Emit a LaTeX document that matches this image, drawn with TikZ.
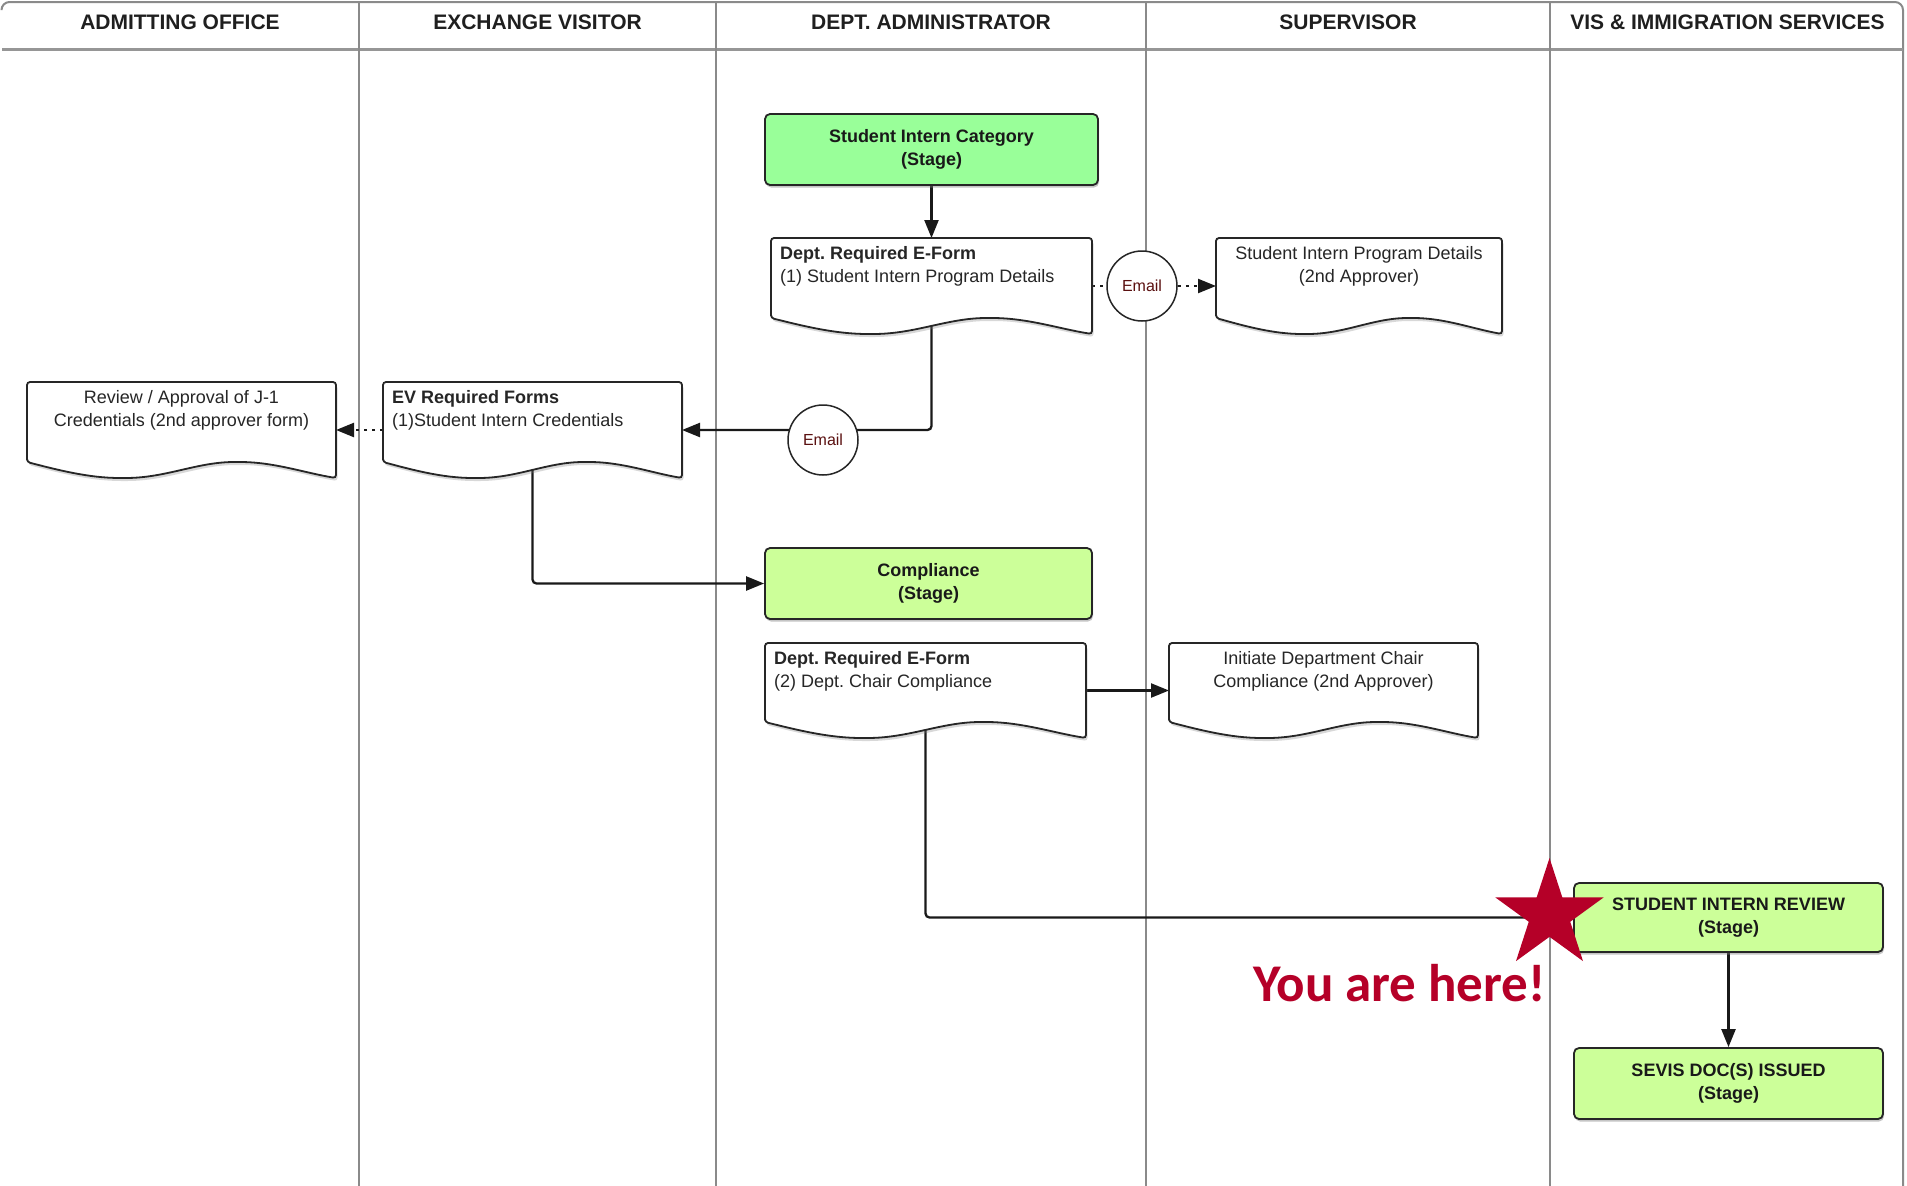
\documentclass[tikz,border=0pt]{standalone}
\usepackage{fontspec}
\setmainfont{Liberation Sans}
\newfontfamily\calib{Carlito}
\usetikzlibrary{arrows.meta,calc,shadows}
\pgfdeclarelayer{lanes}
\pgfdeclarelayer{conns}
\pgfsetlayers{lanes,conns,main}
\frenchspacing

\definecolor{lanegrey}{RGB}{138,138,138}
\definecolor{stageA}{RGB}{153,255,153}
\definecolor{stageB}{RGB}{204,255,153}
\definecolor{mailred}{RGB}{90,16,16}
\definecolor{yah}{RGB}{181,0,40}

\tikzset{
  lane/.style={draw=lanegrey, line width=2.5pt},
  hdr/.style={font=\fontsize{21}{25}\selectfont\bfseries, text=black!88},
  stage/.style={draw=black!85, line width=1.8pt, rounded corners=5pt, align=center,
    font=\fontsize{18}{22.5}\selectfont\bfseries, text=black!90,
    drop shadow={shadow xshift=1pt, shadow yshift=-2.5pt, opacity=0.45}},
  docbox/.style={inner sep=0pt, outer sep=0pt},
  docstyle/.style={draw=black!85, line width=1.8pt, fill=white, rounded corners=3pt,
    drop shadow={shadow xshift=1.5pt, shadow yshift=-3pt, opacity=0.3}},
  doctext/.style={font=\fontsize{18}{22.5}\selectfont, text=black!85, inner sep=0pt},
  mail/.style={circle, draw=black!85, fill=white, line width=1.5pt, minimum size=70pt,
    inner sep=0pt, font=\fontsize{16}{18}\selectfont, text=mailred},
  conn/.style={draw=black!90, line width=2.3pt, rounded corners=4pt},
  tip/.style={-{Triangle[length=18pt,width=14pt]}},
  dotc/.style={dash pattern=on 3pt off 5pt}
}

\newcommand\docshape[1]{%
  \draw[docstyle] ([yshift=16pt]#1.south west) -- (#1.north west) -- (#1.north east) -- (#1.south east)
    .. controls ([yshift=5pt]$(#1.south east)!0.1!(#1.south west)$) and ([yshift=16pt]$(#1.south east)!0.2!(#1.south west)$)
    .. ([yshift=16pt]$(#1.south east)!0.32!(#1.south west)$)
    .. controls ([yshift=16pt]$(#1.south east)!0.45!(#1.south west)$) and ([yshift=0pt]$(#1.south east)!0.55!(#1.south west)$)
    .. ([yshift=0pt]$(#1.south east)!0.69!(#1.south west)$)
    .. controls ([yshift=0pt]$(#1.south east)!0.8!(#1.south west)$) and ([yshift=8pt]$(#1.south east)!0.9!(#1.south west)$)
    .. ([yshift=16pt]#1.south west) -- cycle;}

\begin{document}
\begin{tikzpicture}[x=1pt,y=-1pt]
\useasboundingbox (0,0) rectangle (1907,1186);

% lanes and header
\begin{pgfonlayer}{lanes}
\fill[white] (0,0) rectangle (1907,1186);
\draw[draw=lanegrey, line width=2pt] (1.5,9) [rounded corners=8pt] -- (1.5,2) -- (1903,2) -- (1903,1190);
\draw[draw=lanegrey!90, line width=3pt] (2,49) -- (1903,49);
\draw[lane] (359,2) -- (359,1190);
\draw[lane] (716,2) -- (716,1190);
\draw[lane] (1146,2) -- (1146,1190);
\draw[lane] (1550,2) -- (1550,1190);
\end{pgfonlayer}

\node[hdr] (h1) at (180,22) {ADMITTING OFFICE};
\node[hdr] (h2) at (537.5,22) {EXCHANGE VISITOR};
\node[hdr] (h3) at (931,22) {DEPT. ADMINISTRATOR};
\node[hdr] (h4) at (1348,22) {SUPERVISOR};
\node[hdr] (h5) at (1727.5,22) {VIS \& IMMIGRATION SERVICES};

% stage boxes
\node[stage, fill=stageA, minimum width=333pt, minimum height=71pt] (sic) at (931.5,149.5) {Student Intern Category\\(Stage)};
\node[stage, fill=stageB, minimum width=327pt, minimum height=71pt] (comp) at (928.5,583.5) {Compliance\\(Stage)};
\node[stage, fill=stageB, minimum width=309pt, minimum height=69pt] (sir) at (1728.5,917.5) {STUDENT INTERN REVIEW\\(Stage)};
\node[stage, fill=stageB, minimum width=309pt, minimum height=71pt] (sev) at (1728.5,1083.5) {SEVIS DOC(S) ISSUED\\(Stage)};

% document frames
\node[docbox, minimum width=321pt, minimum height=96pt] (d1) at (931.5,286) {};
\node[docbox, minimum width=286pt, minimum height=96pt] (d1b) at (1359,286) {};
\node[docbox, minimum width=309pt, minimum height=96pt] (rev) at (181.5,430) {};
\node[docbox, minimum width=299pt, minimum height=96pt] (ev) at (532.5,430) {};
\node[docbox, minimum width=321pt, minimum height=95pt] (d2) at (925.5,690.5) {};
\node[docbox, minimum width=309pt, minimum height=95pt] (init) at (1323.5,690.5) {};

\docshape{d1}
\docshape{d1b}
\docshape{rev}
\docshape{ev}
\docshape{d2}
\docshape{init}

\node[doctext, anchor=north west, align=left] (d1t) at ([shift={(9,8.5)}]d1.north west)
  {\textbf{Dept. Required E-Form}\\(1) Student Intern Program Details};
\node[doctext, anchor=north, align=center] (d1bt) at ([yshift=-8.5pt]d1b.north)
  {Student Intern Program Details\\(2nd Approver)};
\node[doctext, anchor=north, align=center] (revt) at ([yshift=-8.5pt]rev.north)
  {Review / Approval of J-1\\Credentials (2nd approver form)};
\node[doctext, anchor=north west, align=left] (evt) at ([shift={(9,8.5)}]ev.north west)
  {\textbf{EV Required Forms}\\(1)Student Intern Credentials};
\node[doctext, anchor=north west, align=left] (d2t) at ([shift={(9,8.5)}]d2.north west)
  {\textbf{Dept. Required E-Form}\\(2) Dept. Chair Compliance};
\node[doctext, anchor=north, align=center] (initt) at ([yshift=-8.5pt]init.north)
  {Initiate Department Chair\\Compliance (2nd Approver)};

% email circles
\node[mail] (m1) at (1142,286) {Email};
\node[mail] (m2) at (823,440) {Email};

% connectors
\begin{pgfonlayer}{conns}
\draw[conn, tip] (sic.south) -- (d1.north);
\draw[conn, dotc] (d1.east) -- (m1.west);
\draw[conn, dotc, tip] (m1.east) -- (d1b.west);
\draw[conn, tip] (d1.center) |- (ev.east);
\draw[conn, dotc, tip] (ev.west) -- (rev.east);
\draw[conn, tip] (ev.center) |- (comp.west);
\draw[conn, tip] (d2.east) -- (init.west);
\draw[conn] (d2.center) |- (sir.west);
\draw[conn, tip] (sir.south) -- (sev.north);
\end{pgfonlayer}

% you are here marker
\begin{scope}[shift={(1549.5,915)}, x=1pt, y=1pt]
\fill[yah] (90:57) -- (126:21.8) -- (162:57) -- (198:21.8) -- (234:57) -- (270:21.8)
  -- (306:57) -- (342:21.8) -- (18:57) -- (54:21.8) -- cycle;
\end{scope}
\node[anchor=base east, text=yah, inner sep=0pt, font={\calib\bfseries\fontsize{53}{60}\selectfont}] (here) at (1546,1001) {You are here!};
\end{tikzpicture}
\end{document}
